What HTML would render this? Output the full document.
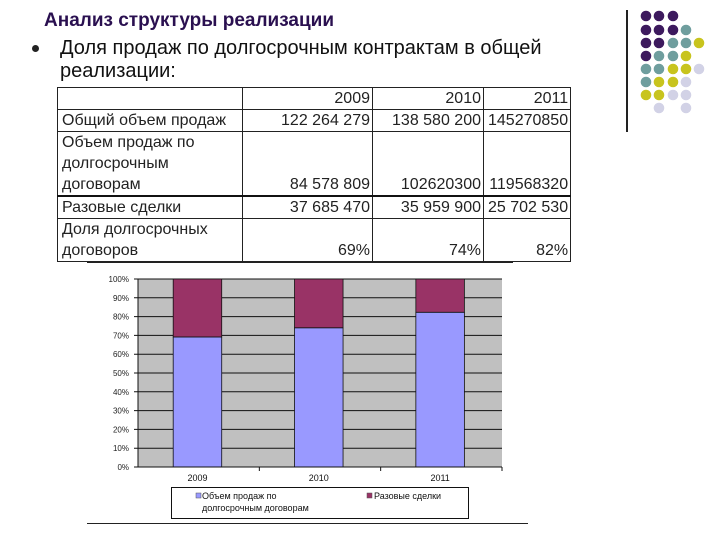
<!DOCTYPE html>
<html><head><meta charset="utf-8">
<style>
body{margin:0;width:720px;height:540px;background:#fff;position:relative;overflow:hidden;font-family:"Liberation Sans","DejaVu Sans",sans-serif}
.abs{position:absolute}
table{border-collapse:collapse;position:absolute;left:57px;top:87px;font-size:16px;color:#222;table-layout:fixed}
td{border:1px solid #222;padding:0 2px 0 4px;vertical-align:bottom;line-height:21px;white-space:nowrap;overflow:hidden}
td.n{text-align:right}
</style></head><body>
<div class="abs" style="left:44px;top:10px;font-size:19px;font-weight:bold;color:#2a1050">Анализ структуры реализации</div>
<div class="abs" style="left:32px;top:45px;width:7px;height:7px;border-radius:50%;background:#222"></div>
<div class="abs" style="left:60px;top:37px;font-size:20px;line-height:23px;color:#111">Доля продаж по долгосрочным контрактам в общей<br>реализации:</div>
<div class="abs" style="left:626px;top:10px;width:2px;height:122px;background:#222"></div>
<svg class="abs" style="left:0;top:0" width="720" height="140" id="dots"></svg>

<table>
<tr style="height:22px"><td style="width:178px"></td><td class="n" style="width:123px">2009</td><td class="n" style="width:104px">2010</td><td class="n" style="width:79px">2011</td></tr>
<tr style="height:22px"><td>Общий объем продаж</td><td class="n">122 264 279</td><td class="n">138 580 200</td><td class="n">145270850</td></tr>
<tr style="height:63px"><td>Объем продаж по<br>долгосрочным<br>договорам</td><td class="n">84 578 809</td><td class="n">102620300</td><td class="n">119568320</td></tr>
<tr style="height:22px;border-top:2px solid #111"><td>Разовые сделки</td><td class="n">37 685 470</td><td class="n">35 959 900</td><td class="n">25 702 530</td></tr>
<tr style="height:42px"><td>Доля долгосрочных<br>договоров</td><td class="n">69%</td><td class="n">74%</td><td class="n">82%</td></tr>
</table>
<div class="abs" style="left:87px;top:262px;width:426px;height:1px;background:#222"></div>

<svg class="abs" style="left:0;top:0" width="720" height="540" id="chart"></svg>

<script>
const categories=["2009","2010","2011"];
const longTerm=[84578809,102620300,119568320];
const oneTime=[37685470,35959900,25702530];
const yTicks=[0,10,20,30,40,50,60,70,80,90,100];

const NS="http://www.w3.org/2000/svg";
function mk(p,t,a){const e=document.createElementNS(NS,t);for(const k in a)e.setAttribute(k,a[k]);p.appendChild(e);return e;}
const svg=document.getElementById('chart');
const L=138,R=502,T=279,B=467;
const y=v=>B-(B-T)*v/100;
const bw=(R-L)/categories.length;
const x=i=>L+bw*i+bw*0.29;
const barW=bw*0.4;
let r=mk(svg,'rect',{x:L,y:T,width:R-L,height:B-T,fill:'#c0c0c0'});

yTicks.forEach(t=>{
 let g=mk(svg,'line',{x1:L-4,x2:R,y1:y(t),y2:y(t),stroke:'#111','stroke-width':1});
 
 let tx=mk(svg,'text',{x:L-9,y:y(t)+3,'text-anchor':'end','font-size':'8','fill':'#222','font-family':'Liberation Sans'});
 tx.textContent=t+'%';
 
});
mk(svg,'line',{x1:L,x2:L,y1:T,y2:B,stroke:'#111'});
categories.forEach((c,i)=>{
 const tot=longTerm[i]+oneTime[i];
 const p=longTerm[i]/tot*100;
 let b1=mk(svg,'rect',{x:x(i),y:y(p),width:barW,height:B-y(p),fill:'#9999ff',stroke:'#111','stroke-width':0.8});
 
 let b2=mk(svg,'rect',{x:x(i),y:y(100),width:barW,height:y(p)-y(100),fill:'#993366',stroke:'#111','stroke-width':0.8});
 
 mk(svg,'line',{x1:L+bw*(i+1),x2:L+bw*(i+1),y1:B,y2:B+4,stroke:'#111'});
 let lb=mk(svg,'text',{x:x(i)+barW/2,y:B+14,'text-anchor':'middle','font-size':'9','fill':'#111','font-family':'Liberation Sans'});
 lb.textContent=c;
 
});
mk(svg,'line',{x1:L,x2:R,y1:B,y2:B,stroke:'#111'});
let lg=mk(svg,'rect',{x:171.5,y:487.5,width:297,height:31,fill:'#fff',stroke:'#111'});

mk(svg,'rect',{x:196,y:493,width:5,height:5,fill:'#9999ff',stroke:'#555','stroke-width':0.5});
let t1=mk(svg,'text',{x:202,y:499,'font-size':'9','fill':'#111','font-family':'Liberation Sans'});t1.textContent='Объем продаж по';

let t2=mk(svg,'text',{x:202,y:511,'font-size':'9','fill':'#111','font-family':'Liberation Sans'});t2.textContent='долгосрочным договорам';
mk(svg,'rect',{x:367,y:493,width:5,height:5,fill:'#993366',stroke:'#555','stroke-width':0.5});
let t3=mk(svg,'text',{x:374,y:499,'font-size':'9','fill':'#111','font-family':'Liberation Sans'});t3.textContent='Разовые сделки';

mk(svg,'line',{x1:87,x2:528,y1:523.5,y2:523.5,stroke:'#222'});

const d=document.getElementById('dots');
const C={P:'#3d1a5e',G:'#6f9e9e',Y:'#c8c41e',L:'#d2d2e6'};
const rows=["PPP","PPPG","PPGGY","PGGY","GGYYL","GYYL","YYLL"," L L"];
const dx=[646,659,673,686,699],dy=[16,30,43,56,69,82,95,108];
rows.forEach((row,ri)=>[...row].forEach((ch,ci)=>{if(ch!==' ')mk(d,'circle',{cx:dx[ci],cy:dy[ri],r:5.3,fill:C[ch]});}));
</script>
</body></html>
